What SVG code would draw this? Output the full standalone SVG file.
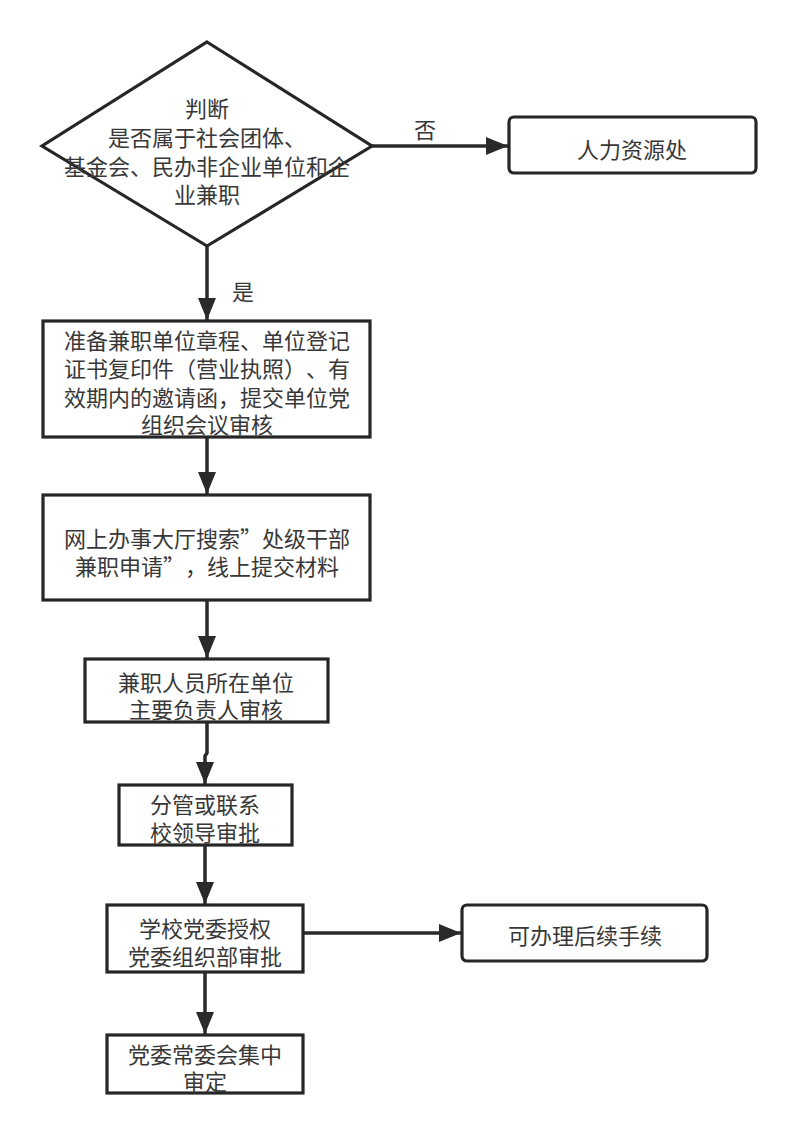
<svg xmlns="http://www.w3.org/2000/svg" width="798" height="1136" viewBox="0 0 798 1136">
<defs>
<style>
.node{fill:#fff;stroke:#262626;stroke-width:3.2}
.edge{fill:none;stroke:#2a2a2a;stroke-width:3.5}
text{font-family:"Noto Sans CJK SC","Noto Sans",sans-serif;font-size:22px;fill:#383838;text-anchor:middle;dominant-baseline:central;text-spacing-trim:space-all}
</style>
<marker id="arr" markerUnits="userSpaceOnUse" markerWidth="23" markerHeight="18" refX="22" refY="9" orient="auto">
<path d="M0,0 L22,9 L0,18 Z" fill="#2a2a2a"/>
</marker>
</defs>
<rect width="798" height="1136" fill="#fff"/>
<g id="connectors">
<line class="edge" x1="371" y1="146" x2="508" y2="146" marker-end="url(#arr)"/>
<line class="edge" x1="207" y1="246" x2="207" y2="320" marker-end="url(#arr)"/>
<line class="edge" x1="207" y1="437" x2="207" y2="494" marker-end="url(#arr)"/>
<line class="edge" x1="207" y1="600" x2="207" y2="658" marker-end="url(#arr)"/>
<path class="edge" d="M207,722 V753 L205,756 V784" marker-end="url(#arr)"/>
<line class="edge" x1="205" y1="845" x2="205" y2="904" marker-end="url(#arr)"/>
<line class="edge" x1="303" y1="933" x2="461" y2="933" marker-end="url(#arr)"/>
<line class="edge" x1="205" y1="972" x2="205" y2="1034" marker-end="url(#arr)"/>
<text x="425" y="128">否</text>
<text x="243" y="290">是</text>
</g>
<g id="decision">
<polygon class="node" points="207,42 372,146 207,246 42,146"/>
<text x="207" y="107">判断</text>
<text x="207" y="136">是否属于社会团体、</text>
<text x="207" y="165">基金会、民办非企业单位和企</text>
<text x="207" y="193">业兼职</text>
</g>
<g id="hr">
<rect class="node" x="509" y="117" width="247" height="56" rx="5"/>
<text x="632" y="148">人力资源处</text>
</g>
<g id="prepare">
<rect class="node" x="43" y="321" width="327" height="116"/>
<text x="207" y="339">准备兼职单位章程、单位登记</text>
<text x="207" y="367">证书复印件（营业执照）、有</text>
<text x="207" y="396">效期内的邀请函，提交单位党</text>
<text x="207" y="423">组织会议审核</text>
</g>
<g id="online">
<rect class="node" x="43" y="495" width="327" height="105"/>
<text x="207" y="537">网上办事大厅搜索”处级干部</text>
<text x="207" y="565">兼职申请”，线上提交材料</text>
</g>
<g id="unit">
<rect class="node" x="85" y="659" width="243" height="63"/>
<text x="206" y="681">兼职人员所在单位</text>
<text x="206" y="708">主要负责人审核</text>
</g>
<g id="leader">
<rect class="node" x="119" y="785" width="173" height="60"/>
<text x="205" y="803">分管或联系</text>
<text x="205" y="831">校领导审批</text>
</g>
<g id="party">
<rect class="node" x="107" y="905" width="196" height="67"/>
<text x="205" y="927">学校党委授权</text>
<text x="205" y="955">党委组织部审批</text>
</g>
<g id="followup">
<rect class="node" x="462" y="905" width="245" height="56" rx="5"/>
<text x="585" y="934">可办理后续手续</text>
</g>
<g id="standing">
<rect class="node" x="107" y="1035" width="196" height="58"/>
<text x="205" y="1053">党委常委会集中</text>
<text x="205" y="1080">审定</text>
</g>
</svg>
